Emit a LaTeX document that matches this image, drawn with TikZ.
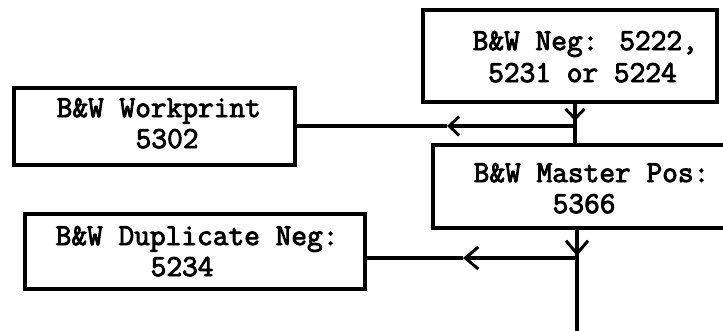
\documentclass[tikz,border=0pt]{standalone}
\usepackage{fontspec}
\newfontfamily\tw{Latin Modern Mono}[FakeBold=3]
\usetikzlibrary{arrows.meta}
\begin{document}
\begin{tikzpicture}[x=1pt,y=-1pt,
  line width=3.4pt,
  box/.style={draw, rectangle, inner sep=0pt},
  txt/.style={anchor=base west, inner sep=0pt, font=\tw\fontsize{30.5}{31}\selectfont},
  barbA/.style={-{Straight Barb[length=10pt,width=19pt,line width=3pt]}},
  barbB/.style={-{Straight Barb[length=13pt,width=22pt,line width=3pt]}}]
\useasboundingbox (0,0) rectangle (723,330);
\clip (0,0) rectangle (723,330);
% boxes
\node[box, minimum width=294pt, minimum height=92pt] (neg) at (570,56) {};
\node[box, minimum width=281pt, minimum height=77pt] (wp) at (154.5,126.5) {};
\node[box, minimum width=307pt, minimum height=83pt] (mp) at (586.5,186.5) {};
\node[box, minimum width=340pt, minimum height=75pt] (dup) at (195,251.5) {};
% texts
\node[txt] (negA) at (471,50) {B\&W Neg: 5222,};
\node[txt] (negB) at (486.5,82) {5231 or 5224};
\node[txt] (wpA) at (55,117) {B\&W Workprint};
\node[txt] (wpB) at (134,148) {5302};
\node[txt] (mpA) at (472,182) {B\&W Master Pos:};
\node[txt] (mpB) at (551,213) {5366};
\node[txt] (dupA) at (54,245) {B\&W Duplicate Neg:};
\node[txt] (dupB) at (149,276) {5234};
% connectors, upper
\coordinate (t1) at (575,102);
\coordinate (d1) at (575,121);
\coordinate (j1) at (575,126);
\coordinate (a1) at (447,126);
\draw (neg.south -| t1) -- (mp.north -| t1);
\draw[barbA] (t1) -- (d1);
\draw[barbA] (j1) -- (a1);
\draw (a1) -- (wp.east |- a1);
% connectors, lower
\coordinate (t2) at (577,228);
\coordinate (d2) at (577,256);
\coordinate (j2) at (577,258);
\coordinate (a2) at (463,258);
\coordinate (e2) at (577,335);
\draw (mp.south -| t2) -- (e2);
\draw[barbB] (t2) -- (d2);
\draw[barbB] (j2) -- (a2);
\draw (a2) -- (dup.east |- a2);
\end{tikzpicture}
\end{document}
